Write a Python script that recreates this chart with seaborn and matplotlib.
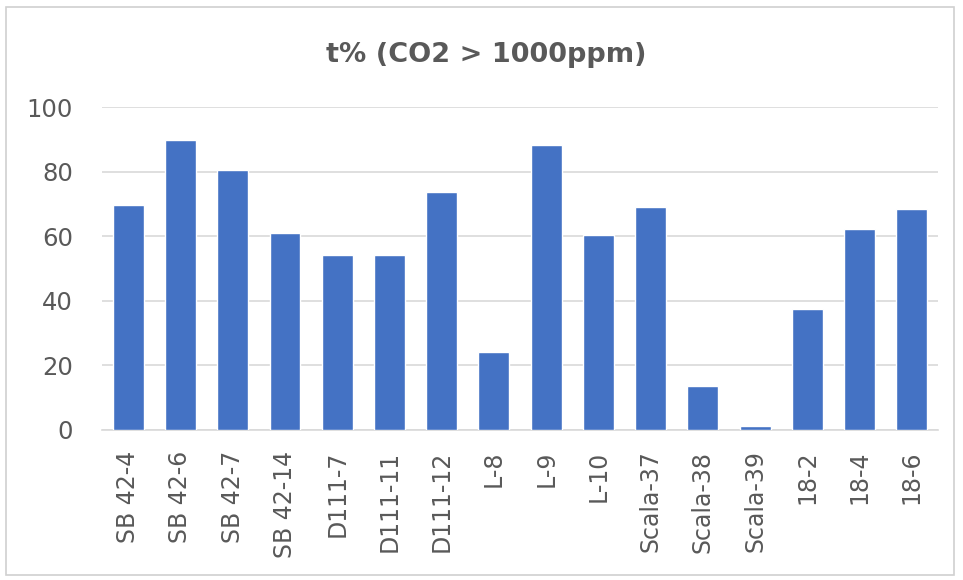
"""Bar chart: share of time with CO2 above 1000 ppm per room."""

import matplotlib
matplotlib.use("Agg")
import matplotlib.pyplot as plt
import seaborn as sns
import pandas as pd
from matplotlib.patches import Rectangle

# Data
rooms = ["SB 42-4", "SB 42-6", "SB 42-7", "SB 42-14", "D111-7", "D111-11",
         "D111-12", "L-8", "L-9", "L-10", "Scala-37", "Scala-38", "Scala-39",
         "18-2", "18-4", "18-6"]
t_pct = [69.6, 89.9, 80.4, 60.9, 54.2, 54.2, 73.7, 24.0,
         88.3, 60.5, 68.9, 13.7, 1.3, 37.5, 62.2, 68.5]
y_ticks = [0, 20, 40, 60, 80, 100]

BAR = "#4472C4"
TEXT = "#595959"
GRID = "#D9D9D9"

sns.set_style("white")
plt.rcParams["font.family"] = ["DejaVu Sans"]

df = pd.DataFrame({"room": rooms, "t": t_pct})

fig = plt.figure(figsize=(9.63, 5.8), dpi=100)
ax = fig.add_axes([0.106, 0.259, 0.868, 0.5565])

sns.barplot(data=df, x="room", y="t", color=BAR, width=0.59,
            saturation=1, ax=ax, zorder=3)

ax.set_ylim(0, 100)
ax.set_yticks(y_ticks)
ax.set_xlim(-0.5, len(rooms) - 0.5)
ax.set_xlabel("")
ax.set_ylabel("")
ax.yaxis.grid(True, color=GRID, linewidth=1.2, zorder=0)
ax.set_axisbelow(True)
for side in ["top", "right", "left"]:
    ax.spines[side].set_visible(False)
ax.spines["bottom"].set_color(GRID)
ax.spines["bottom"].set_linewidth(1.2)

ax.tick_params(axis="x", labelrotation=90, labelsize=17, labelcolor=TEXT,
               length=0, pad=15)
ax.tick_params(axis="y", labelsize=17.5, labelcolor=TEXT, length=0, pad=21)

fig.text(0.505, 0.906, "t% (CO2 > 1000ppm)", ha="center", va="center",
         fontsize=19.5, fontweight="bold", color=TEXT)

# light frame around the chart area
fig.patches.append(Rectangle((0.006, 0.008), 0.985, 0.98,
                             transform=fig.transFigure, fill=False,
                             edgecolor="#D0D0D0", linewidth=1.2))

fig.savefig("out.png", dpi=100)
